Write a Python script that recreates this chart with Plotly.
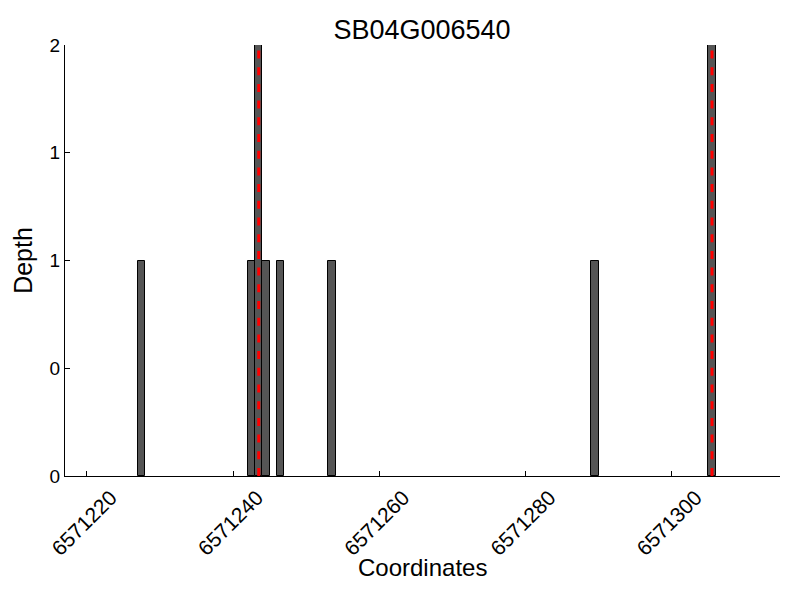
import plotly.graph_objects as go

title = "SB04G006540"
positions = [6571227, 6571242, 6571243, 6571244, 6571246, 6571253, 6571289, 6571305]
depths = [1, 1, 2, 1, 1, 1, 1, 2]
marker_positions = [6571243.5, 6571305.5]
x_tickvals = [6571220, 6571240, 6571260, 6571280, 6571300]
x_ticktext = ["6571220", "6571240", "6571260", "6571280", "6571300"]
y_tickvals = [0, 0.5, 1, 1.5, 2]
y_ticktext = ["0", "0", "1", "1", "2"]
x_title = "Coordinates"
y_title = "Depth"

FONT = "Liberation Sans, Arial, sans-serif"

fig = go.Figure()
fig.add_trace(go.Bar(
    x=positions, y=depths, width=1, offset=0,
    marker=dict(color="#555555", line=dict(color="black", width=1)),
    showlegend=False,
))
for mp in marker_positions:
    fig.add_trace(go.Scatter(
        x=[mp, mp], y=[0, 2], mode="lines",
        line=dict(color="red", width=3, dash="8px,8.7px"),
        showlegend=False,
    ))

# page body has an 8px margin, so the figure is 792x592 and offset by 8px
fig.update_layout(
    width=792, height=592,
    margin=dict(l=57, r=20, t=37, b=124),
    plot_bgcolor="white", paper_bgcolor="white",
    title=dict(text=title, x=0.5227, xanchor="center", y=0.963, yanchor="middle",
               font=dict(family=FONT, size=27, color="black")),
    font=dict(family=FONT, color="black"),
    bargap=0,
    annotations=[dict(text=x_title, xref="paper", yref="paper", x=0.5, y=0,
                      xanchor="center", yanchor="middle", yshift=-91,
                      showarrow=False, font=dict(size=24, color="black"))],
)
fig.update_xaxes(
    range=[6571217, 6571314.8], automargin=False,
    tickvals=x_tickvals, ticktext=x_ticktext, tickangle=-45,
    tickfont=dict(size=21), ticks="inside", ticklen=5, tickcolor="black",
    ticklabelshift=24, ticklabelstandoff=0,
    showline=True, linecolor="black", linewidth=1, mirror=False,
    showgrid=False, zeroline=False,
)
fig.update_yaxes(
    range=[0, 2], automargin=False,
    tickvals=y_tickvals, ticktext=y_ticktext,
    tickfont=dict(size=19), ticks="inside", ticklen=5, tickcolor="black",
    showline=True, linecolor="black", linewidth=1, mirror=False,
    showgrid=False, zeroline=False,
    title=dict(text=y_title, font=dict(size=25), standoff=9),
)

fig.write_html("out.html")
